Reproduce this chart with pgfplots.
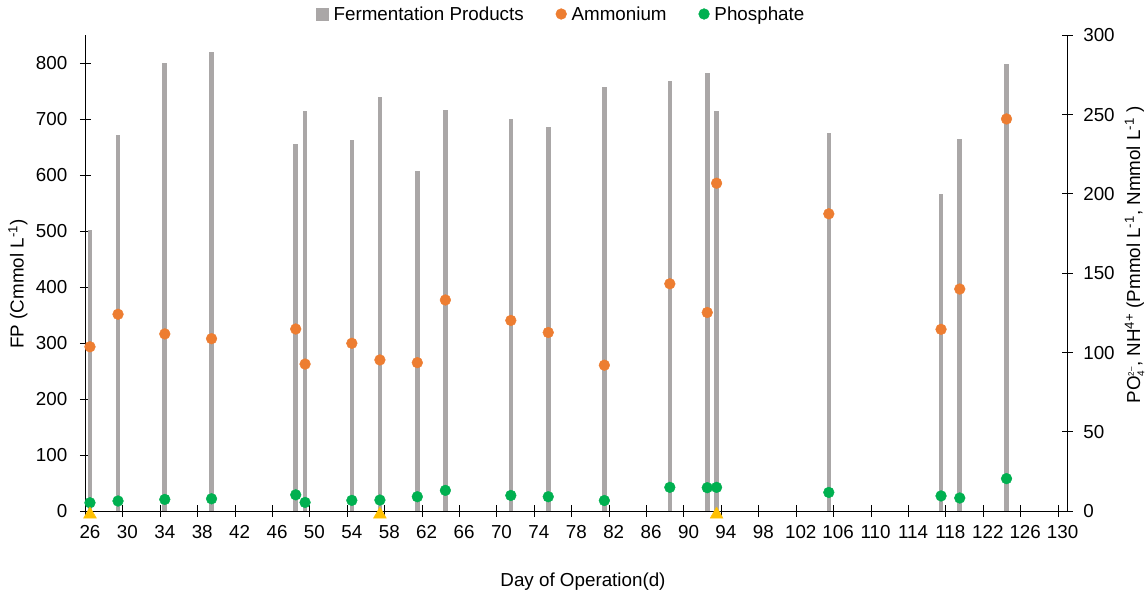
\documentclass[border=0pt]{standalone}
\usepackage{pgfplots}
\usepackage{pgfplotstable}
\pgfplotsset{compat=1.18}
\usepackage{fontspec}
\setmainfont{Liberation Sans}
\definecolor{fpgray}{RGB}{170,167,167}
\definecolor{amm}{RGB}{237,125,49}
\definecolor{phos}{RGB}{0,176,80}
\definecolor{tri}{RGB}{255,192,0}
\newcommand\fs{\fontsize{18.8bp}{22bp}\selectfont}

\pgfplotstableread{
day fp nh po
26 502 103.5 5.2
29 672 124.0 6.3
34 800 111.6 7.3
39 820 108.6 7.7
48 655 114.7 10.2
49 715 92.6 5.4
54 663 105.7 6.7
57 740 95.2 6.9
61 608 93.5 9.0
64 716 133.0 13.0
71 700 120.1 9.8
75 686 112.5 9.0
81 757 91.9 6.6
88 767 143.2 14.9
92 782 125.1 14.7
93 714 206.6 14.9
105 675 187.3 11.7
117 566 114.5 9.5
119 664 139.9 8.2
124 799 247.1 20.4
}\datatab

\pgfplotstableread{
day v
26 0
57 0
93 0
}\tritab

\pgfplotsset{
  common/.style={
    scale only axis, width=982bp, height=476bp,
    at={(85.3bp,81bp)}, anchor=south west,
    xmin=25.5, xmax=130.5,
    tick align=center, major tick length=11bp,
    every tick/.style={black, line width=0.75bp},
    axis line style={black, line width=0.75bp},
    ticklabel style={font=\fs, text height=13.5bp, text depth=0bp},
    /pgf/number format/assume math mode=true,
    label style={font=\fs},
  },
  dotleg/.style={legend image code/.code={\draw[##1] plot coordinates {(5.5bp,0bp)};}},
  sqleg/.style={legend image code/.code={\fill[fpgray] (0bp,-6bp) rectangle (12bp,6bp);}},
}

\begin{document}
\begin{tikzpicture}
\path[use as bounding box] (0,0) rectangle (1148bp,592bp);
\begin{axis}[common,
  ymin=0, ymax=850, ytick={0,100,...,800},
  axis y line*=left, axis x line*=bottom,
  xtick={25.5,29.5,...,129.5},
  xticklabels={26,30,34,38,42,46,50,54,58,62,66,70,74,78,82,86,90,94,98,102,106,110,114,118,122,126,130},
  xticklabel style={xshift=4.676bp, yshift=-5bp},
  yticklabel style={xshift=-9bp},
  ylabel={FP (Cmmol L\textsuperscript{-1})},
  ylabel style={at={(axis description cs:-0.0685,0.477)}, anchor=center},
  xlabel={Day of Operation(d)},
  xlabel style={at={(axis description cs:0.5068,-0.149)}, anchor=center},
]
\addplot[ycomb, no marks, fpgray, line width=4.6bp] table[x=day,y=fp] {\datatab};
\end{axis}
\begin{axis}[common,
  ymin=0, ymax=300, ytick={0,50,...,300},
  axis y line*=right, axis x line=none,
  clip=false,
  yticklabel style={xshift=7bp},
  ylabel={PO$_{\hbox{\fontsize{10bp}{10bp}\selectfont 4}}^{\hbox{\fontsize{8bp}{8bp}\selectfont 2\textendash}}$, NH\textsuperscript{4+} (Pmmol L\textsuperscript{-1}, Nmmol L\textsuperscript{-1} )},
  ylabel style={at={(axis description cs:1.0685,0.538)}, anchor=center},
  legend style={at={(axis description cs:0.4837,1.0441)}, anchor=center, draw=none, fill=none,
    font=\fs, legend columns=3, inner sep=0bp,
    nodes={inner sep=0bp},
    /tikz/every odd column/.style={column sep=5bp},
    /tikz/every even column/.style={column sep=32bp}},
]
\addlegendimage{sqleg}
\addlegendentry{Fermentation Products}
\addplot[only marks, mark=*, mark size=5.4bp, color=amm, dotleg] table[x=day,y=nh] {\datatab};
\addlegendentry{Ammonium}
\addplot[only marks, mark=*, mark size=5.4bp, color=phos, dotleg] table[x=day,y=po] {\datatab};
\addlegendentry{Phosphate}
\addplot[forget plot, only marks, mark=triangle*, mark size=7.5bp, color=tri,
  mark options={yshift=-3.5bp}] table[x=day,y=v] {\tritab};
\end{axis}
\end{tikzpicture}
\end{document}
